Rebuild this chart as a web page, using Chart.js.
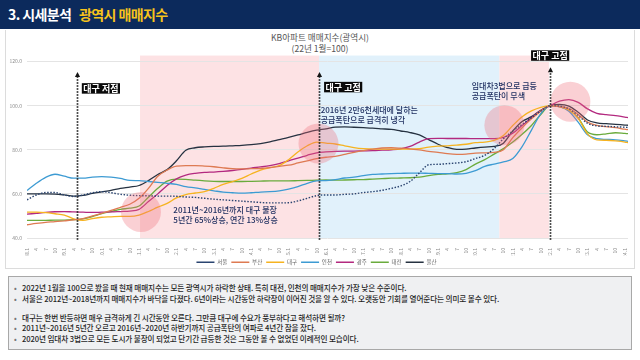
<!DOCTYPE html>
<html><head><meta charset="utf-8">
<script src="https://cdn.jsdelivr.net/npm/chart.js@4"></script>
<style>
html,body{margin:0;padding:0;width:640px;height:360px;overflow:hidden;background:#fff;font-family:"Noto Sans CJK KR","Noto Sans",sans-serif;}
#hdr{position:absolute;left:0;top:0;width:640px;height:29px;background:#0c2a5c;}
#hdr span{position:absolute;top:5.5px;font-size:14px;font-weight:700;letter-spacing:-0.6px;white-space:nowrap;line-height:17px}
#panel{position:absolute;left:5px;top:30px;width:630px;height:239px;border:1px solid #dcdcdc;border-top:none;box-sizing:border-box;}
#ttl{position:absolute;left:0;top:32px;width:640px;text-align:center;color:#555;font-size:8.6px;line-height:11px;}
#wrap{position:absolute;left:5px;top:30px;width:630px;height:245px;}
#box{position:absolute;left:8px;top:276px;width:624px;height:74px;background:#eff0f2;border:1px solid #a8a8a8;box-sizing:border-box;}
.ln{position:absolute;left:5px;padding-left:8px;font-size:7.6px;font-weight:500;line-height:9px;color:#1e1e1e;white-space:nowrap;letter-spacing:-0.1px}
.ln:before{content:"•";position:absolute;left:0;color:#777}
</style>
</head>
<body>
<div id="hdr"><span style="left:8px;color:#fff">3. 시세분석</span><span style="left:79px;color:#f7c31b">광역시 매매지수</span></div>
<div id="panel"></div>
<div id="ttl">KB아파트 매매지수(광역시)<br>(22년 1월=100)</div>
<div id="wrap"><canvas id="c" width="630" height="245"></canvas></div>
<div id="box">
<div class="ln" style="top:5.5px">2022년 1월을 100으로 봤을 때 현재 매매지수는 모든 광역시가 하락한 상태. 특히 대전, 인천의 매매지수가 가장 낮은 수준이다.</div>
<div class="ln" style="top:16.5px">서울은 2012년~2018년까지 매매지수가 바닥을 다졌다. 6년이라는 시간동안 하락장이 이어진 것을 알 수 있다. 오랫동안 기회를 열어준다는 의미로 볼수 있다.</div>
<div class="ln" style="top:35.5px">대구는 한번 반등하면 매우 급격하게 긴 시간동안 오른다. 그만큼 대구에 수요가 풍부하다고 해석하면 될까?</div>
<div class="ln" style="top:46px">2011년~2016년 5년간 오르고 2016년~2020년 하반기까지 공급폭탄의 여파로 4년간 잠을 잤다.</div>
<div class="ln" style="top:57px">2020년 임대차 3법으로 모든 도시가 불장이 되었고 단기간 급등한 것은 그동안 볼 수 없었던 이례적인 모습이다.</div>
</div>
<script>
const periods = ["2008.1","2008.4","2008.7","2008.10","2009.1","2009.4","2009.7","2009.10","2010.1","2010.4","2010.7","2010.10",
"2011.1","2011.4","2011.7","2011.10","2012.1","2012.4","2012.7","2012.10","2013.1","2013.4","2013.7","2013.10",
"2014.1","2014.4","2014.7","2014.10","2015.1","2015.4","2015.7","2015.10","2016.1","2016.4","2016.7","2016.10",
"2017.1","2017.4","2017.7","2017.10","2018.1","2018.4","2018.7","2018.10","2019.1","2019.4","2019.7","2019.10",
"2020.1","2020.4","2020.7","2020.10","2021.1","2021.4","2021.7","2021.10","2022.1","2022.4","2022.7","2022.10",
"2023.1","2023.4","2023.7","2023.10","2024.1","2024.2"];

const seoul = [57.3,59.5,60.6,60.6,59.5,58.8,59.5,60.5,61.0,60.5,
 59.8,59.4,59.2,59.1,59.0,59.0,58.9,58.6,58.4,58.0,
 57.6,57.3,57.0,56.7,56.4,56.1,55.9,55.9,56.0,56.8,
 58.0,59.2,59.5,59.5,59.8,60.0,60.6,61.0,61.6,62.5,
 63.6,65.6,69.5,73.2,73.4,73.7,74.0,74.6,76.0,77.5,
 80.5,85.0,88.5,91.5,94.5,97.5,100,99.8,98.5,95.5,
 92.0,90.8,90.6,90.4,90.2,90.1];
const busan = [46.0,46.6,47.1,47.4,47.8,48.2,48.8,50.0,51.2,52.5,
 53.9,55.3,58.0,62.5,68.0,70.8,72.6,72.8,72.8,72.6,
 72.3,71.8,71.4,71.3,71.4,71.5,71.9,72.5,73.0,74.0,
 75.0,76.0,76.6,77.0,77.9,78.8,79.6,80.3,80.8,80.9,
 80.7,80.4,79.9,79.3,78.8,78.2,77.9,78.0,78.5,78.6,
 78.8,80.0,85.5,90.0,94.0,97.5,100,99.5,98.8,96.0,
 92.5,91.0,90.5,90.0,89.3,89.1];
const daegu = [51.7,51.7,51.5,51.0,50.4,48.7,48.0,48.8,49.4,49.6,
 49.8,49.8,50.4,52.0,54.0,55.7,58.2,59.7,60.4,61.0,
 62.5,64.3,65.6,67.0,69.0,70.8,71.9,72.8,75.5,79.0,
 81.8,83.5,83.0,82.6,81.8,81.0,80.5,80.3,80.3,80.3,
 80.3,80.3,80.5,81.2,81.6,81.8,82.1,82.5,83.2,83.5,
 84.2,86.5,91.0,95.0,97.6,99.2,100,99.5,98.0,94.2,
 87.2,84.5,84.3,84.0,83.5,83.2];
const incheon = [61.5,64.8,67.5,68.9,68.0,67.1,67.1,67.6,67.8,67.6,
 67.0,66.1,66.0,65.6,65.2,64.8,64.3,63.3,62.7,62.0,
 61.4,60.8,60.5,60.3,60.5,60.8,61.0,61.4,62.2,63.3,
 64.8,65.9,66.0,66.5,67.2,67.6,68.3,68.8,69.0,69.2,
 69.3,69.4,69.4,69.3,69.2,69.2,69.0,69.3,70.5,72.5,
 73.5,74.5,76.0,81.4,88.9,96.4,100,99.5,97.5,92.5,
 86.8,85.0,84.7,84.5,84.0,83.8];
const gwangju = [50.8,51.2,51.6,51.9,52.0,51.8,51.7,51.6,51.7,51.8,
 52.0,52.2,53.0,56.5,60.0,63.8,66.8,68.5,69.3,69.7,
 69.9,70.2,70.6,71.1,71.7,72.2,72.8,73.7,75.0,76.2,
 77.5,78.6,79.0,79.3,79.4,79.4,79.5,79.6,79.8,80.0,
 80.4,81.5,83.5,85.0,85.2,85.1,85.1,85.1,85.0,85.0,
 85.0,85.6,87.5,91.0,94.5,97.8,100,102.0,102.7,101.5,
 98.5,96.5,95.9,95.5,94.8,94.6];
const daejeon = [48.0,48.0,48.0,48.1,48.1,48.3,48.7,49.7,51.0,52.0,
 53.0,53.5,54.5,58.5,62.5,65.8,66.7,66.6,66.2,65.9,
 65.7,65.6,65.6,65.6,65.7,65.8,65.9,65.9,65.9,66.0,
 66.1,66.2,66.3,66.2,66.3,66.4,66.5,66.7,66.9,67.1,
 67.2,67.3,67.6,68.3,68.8,69.1,69.6,71.0,73.5,75.5,
 78.0,80.5,83.5,87.0,91.0,96.0,100,99.6,98.0,94.5,
 88.0,86.8,87.2,87.7,87.4,87.3];
const ulsan = [60.0,60.0,60.0,59.9,59.5,59.0,59.3,60.2,60.9,61.6,
 62.5,63.1,63.8,66.0,68.8,71.0,75.0,79.8,80.9,81.3,
 81.5,81.6,81.8,82.0,82.3,82.8,83.6,84.6,85.6,86.7,
 87.9,88.9,89.5,90.3,90.4,90.2,90.0,89.8,89.5,89.2,
 88.5,87.8,86.7,84.6,82.5,81.0,80.2,80.3,80.8,81.2,
 81.5,83.0,88.5,92.8,95.0,97.9,100,100.5,99.8,97.0,
 93.5,92.2,91.8,91.5,91.2,91.1];

const seriesNames = ["서울","부산","대구","인천","광주","대전","울산"];
const seriesValues = [seoul, busan, daegu, incheon, gwangju, daejeon, ulsan];
const seriesColors = ["#2a4470","#de7a52","#f6b320","#3d9bd3","#b3297f","#6aab3c","#263241"];
const yTicks = [40, 60, 80, 100, 120];

// annotation settings (x in months since 2008.1, y in index units)
const bands = [
  {from: 36.3, to: 93.8, color: "#fde2e4"},
  {from: 93.8, to: 151.7, color: "#e1f1fb"},
  {from: 151.7, to: 167.6, color: "#fde2e4"}
];
const bandTop = 122.7;
const arrows = [{x: 16, top: 115.2}, {x: 93.8, top: 115.2}, {x: 168, top: 117.4}];
const tags = [
  {text: "대구 저점", x: 16, dx: 5, y: 107.8, align: "left"},
  {text: "대구 고점", x: 93.8, dx: 5, y: 108.4, align: "left"},
  {text: "대구 고점", x: 168, dx: 0, y: 122.7, align: "center"}
];
const circles = [{x: 36.6, y: 51.8}, {x: 93.6, y: 82.8}, {x: 153.3, y: 91.1}, {x: 174.5, y: 101.8}];
const notes = [
  {lines: ["2011년~2016년까지 대구 불장", "5년간 65%상승, 연간 13%상승"], x: 47, y: 52.7},
  {lines: ["2016년 2만6천세대에 달하는", "공급폭탄으로 급격히 냉각"], x: 94.3, y: 97.9},
  {lines: ["임대차3법으로 급등", "공급폭탄이 무색"], x: 142.8, y: 108.7}
];

const FONT = '"Noto Sans CJK KR","Noto Sans",sans-serif';
Chart.defaults.font.family = FONT;

function toMonth(p) { const [yy, mm] = p.split(".").map(Number); return (yy - 2008) * 12 + (mm - 1); }
const xs = periods.map(toMonth);

const annot = {
  id: "annot",
  beforeDraw(chart) {
    const {ctx, chartArea: a, scales: {x, y}} = chart;
    ctx.save();
    const yt = y.getPixelForValue(bandTop);
    bands.forEach(b => {
      const x0 = x.getPixelForValue(b.from), x1 = x.getPixelForValue(b.to);
      ctx.fillStyle = b.color;
      ctx.fillRect(x0, yt, x1 - x0, a.bottom - yt);
    });
    ctx.restore();
  },
  afterDatasetsDraw(chart) {
    const {ctx, scales: {x, y}} = chart;
    ctx.save();
    circles.forEach(c => {
      ctx.beginPath();
      ctx.arc(x.getPixelForValue(c.x), y.getPixelForValue(c.y), 20, 0, Math.PI * 2);
      ctx.fillStyle = "rgba(240,110,120,0.32)";
      ctx.fill();
    });
    arrows.forEach(ar => {
      const px = Math.round(x.getPixelForValue(ar.x)) + 0.5;
      const pt = y.getPixelForValue(ar.top);
      const pb = y.getPixelForValue(39.2);
      ctx.strokeStyle = "#151515";
      ctx.lineWidth = 1.7;
      ctx.setLineDash([1.6, 1.4]);
      ctx.beginPath(); ctx.moveTo(px, pb); ctx.lineTo(px, pt + 4); ctx.stroke();
      ctx.setLineDash([]);
      ctx.fillStyle = "#151515";
      ctx.beginPath(); ctx.moveTo(px, pt); ctx.lineTo(px - 2.6, pt + 5); ctx.lineTo(px + 2.6, pt + 5); ctx.closePath(); ctx.fill();
    });
    ctx.font = "700 9px " + FONT;
    ctx.textBaseline = "middle";
    tags.forEach(t => {
      const w = ctx.measureText(t.text).width + 3;
      const h = 10.5;
      const px = x.getPixelForValue(t.x) + t.dx;
      const left = t.align === "center" ? px - w / 2 : px;
      const cy = y.getPixelForValue(t.y);
      ctx.fillStyle = "#0a0a0a";
      ctx.fillRect(left, cy - h / 2, w, h);
      ctx.fillStyle = "#ffffff";
      ctx.textAlign = "left";
      ctx.fillText(t.text, left + 1.5, cy + 0.5);
    });
    ctx.font = "500 8px " + FONT;
    ctx.fillStyle = "#1f2f60";
    ctx.textAlign = "left";
    notes.forEach(n => {
      const px = x.getPixelForValue(n.x);
      const py = y.getPixelForValue(n.y);
      n.lines.forEach((l, i) => ctx.fillText(l, px, py + i * 10));
    });
    ctx.restore();
  }
};

new Chart(document.getElementById("c"), {
  type: "line",
  data: {
    datasets: seriesNames.map((name, i) => ({
      label: name,
      data: seriesValues[i].map((v, k) => ({x: xs[k], y: v})),
      borderColor: seriesColors[i],
      backgroundColor: seriesColors[i],
      borderWidth: i === 0 ? 1.4 : 1.3,
      borderDash: i === 0 ? [1.5, 1.6] : [],
      pointRadius: 0,
      cubicInterpolationMode: "monotone",
      fill: false
    }))
  },
  options: {
    responsive: false,
    animation: false,
    devicePixelRatio: 1,
    layout: {padding: {top: 31.5, right: 7, left: 0, bottom: 0}},
    scales: {
      x: {
        type: "linear", min: 0, max: 193,
        grid: {display: false}, border: {display: false},
        afterFit: s => { s.height = 17.5; },
        ticks: {
          stepSize: 3, includeBounds: false, autoSkip: false,
          minRotation: 90, maxRotation: 90, padding: 2,
          color: "#8a8a8a", font: {size: 5},
          callback: v => (v % 12 === 0 ? (2008 + v / 12) + ".1" : String(v % 12 + 1))
        }
      },
      y: {
        min: 40, max: 120,
        afterFit: s => { s.width = 22; },
        afterBuildTicks: s => { s.ticks = yTicks.map(v => ({value: v})); },
        grid: {color: "#e4e4e4", lineWidth: 1, drawTicks: false},
        border: {display: false},
        ticks: {padding: 5, color: "#8a8a8a", font: {size: 5}, callback: v => Number(v).toFixed(1)}
      }
    },
    plugins: {
      legend: {
        position: "bottom",
        labels: {
          usePointStyle: true, pointStyle: "line", pointStyleWidth: 18,
          padding: 4, color: "#666", font: {size: 5.5}
        }
      },
      tooltip: {enabled: false}
    }
  },
  plugins: [annot]
});
</script>
</body></html>
